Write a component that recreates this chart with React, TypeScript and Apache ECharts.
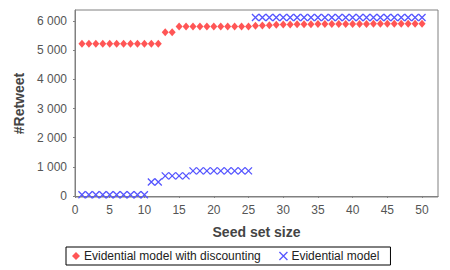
import React, { useEffect, useRef } from "react";
import * as echarts from "echarts";

const seedSizes: number[] = Array.from({ length: 50 }, (_, i) => i + 1);

const discountingValues: number[] = [
  5220, 5220, 5220, 5220, 5220, 5220, 5220, 5220, 5220, 5220,
  5220, 5220, 5620, 5620, 5810, 5810, 5810, 5810, 5810, 5810,
  5810, 5810, 5810, 5810, 5810, 5840, 5850, 5860, 5870, 5880,
  5880, 5890, 5890, 5890, 5900, 5900, 5900, 5900, 5900, 5900,
  5900, 5900, 5910, 5910, 5910, 5910, 5910, 5910, 5910, 5910,
];

const evidentialValues: number[] = [
  40, 40, 40, 40, 40, 40, 40, 40, 40, 40,
  480, 480, 690, 690, 690, 690, 860, 860, 860, 860,
  860, 860, 860, 860, 860, 6120, 6120, 6120, 6120, 6120,
  6120, 6120, 6120, 6120, 6120, 6120, 6120, 6120, 6120, 6120,
  6120, 6120, 6120, 6120, 6120, 6120, 6120, 6120, 6120, 6120,
];

const xTicks: number[] = [0, 5, 10, 15, 20, 25, 30, 35, 40, 45, 50];
const yTicks: number[] = [0, 1000, 2000, 3000, 4000, 5000, 6000];

const seriesNames = ["Evidential model with discounting", "Evidential model"];

const FONT = "'Liberation Sans', Arial, sans-serif";
const CROSS = "path://M0,0L10,10M10,0L0,10";

export default function App() {
  const ref = useRef<HTMLDivElement>(null);
  useEffect(() => {
    if (!ref.current) return;
    document.body.style.margin = "0";
    const chart = echarts.init(ref.current, null, { renderer: "svg" });
    chart.setOption({
      animation: false,
      backgroundColor: "#ffffff",
      textStyle: { fontFamily: FONT },
      grid: {
        left: 75,
        right: 12,
        top: 10,
        bottom: 73,
        show: true,
        borderColor: "#808080",
        borderWidth: 1,
      },
      legend: {
        left: 66,
        top: 247,
        orient: "horizontal",
        borderColor: "#000000",
        borderWidth: 1,
        padding: [3, 11, 3, 6],
        itemWidth: 8,
        itemHeight: 8,
        itemGap: 18,
        textStyle: { fontFamily: FONT, fontSize: 12, color: "#222222", padding: [0, 0, 0, -1] },
        data: [
          { name: seriesNames[0], icon: "diamond", itemStyle: { color: "#FF5555" } },
          {
            name: seriesNames[1],
            icon: CROSS,
            itemStyle: { color: "transparent", borderColor: "#5555FF", borderWidth: 1.3 },
          },
        ],
      },
      xAxis: {
        type: "value",
        min: 0,
        max: 52.3,
        offset: 3,
        name: "Seed set size",
        nameLocation: "middle",
        nameGap: 25,
        nameTextStyle: { fontFamily: FONT, fontSize: 14, fontWeight: "bold", color: "#444444" },
        axisLine: { show: true, lineStyle: { color: "#808080" } },
        axisTick: { show: true, length: 2, customValues: xTicks, lineStyle: { color: "#808080" } },
        axisLabel: { customValues: xTicks, fontSize: 12, color: "#555555", margin: 4, fontFamily: FONT },
        splitLine: { show: false },
      },
      yAxis: {
        type: "value",
        min: -35,
        max: 6380,
        offset: 3,
        name: "#Retweet",
        nameLocation: "middle",
        nameGap: 46,
        nameTextStyle: { fontFamily: FONT, fontSize: 14, fontWeight: "bold", color: "#444444" },
        axisLine: { show: true, lineStyle: { color: "#808080" } },
        axisTick: { show: true, length: 2, customValues: yTicks, lineStyle: { color: "#808080" } },
        axisLabel: {
          customValues: yTicks,
          fontSize: 12,
          color: "#555555",
          margin: 5,
          fontFamily: FONT,
          formatter: (v: number) => String(Math.round(v)).replace(/\B(?=(\d{3})+(?!\d))/g, " "),
        },
        splitLine: { show: false },
      },
      series: [
        {
          name: seriesNames[0],
          type: "scatter",
          symbol: "diamond",
          symbolSize: [7, 8],
          itemStyle: { color: "#FF5555", opacity: 1 },
          data: seedSizes.map((x, i) => [x, discountingValues[i]]),
        },
        {
          name: seriesNames[1],
          type: "scatter",
          symbol: CROSS,
          symbolSize: 7,
          itemStyle: { color: "transparent", borderColor: "#5555FF", borderWidth: 1.3, opacity: 1 },
          data: seedSizes.map((x, i) => [x, evidentialValues[i]]),
        },
      ],
    });
    return () => chart.dispose();
  }, []);
  return <div ref={ref} style={{ width: 450, height: 270 }} />;
}
